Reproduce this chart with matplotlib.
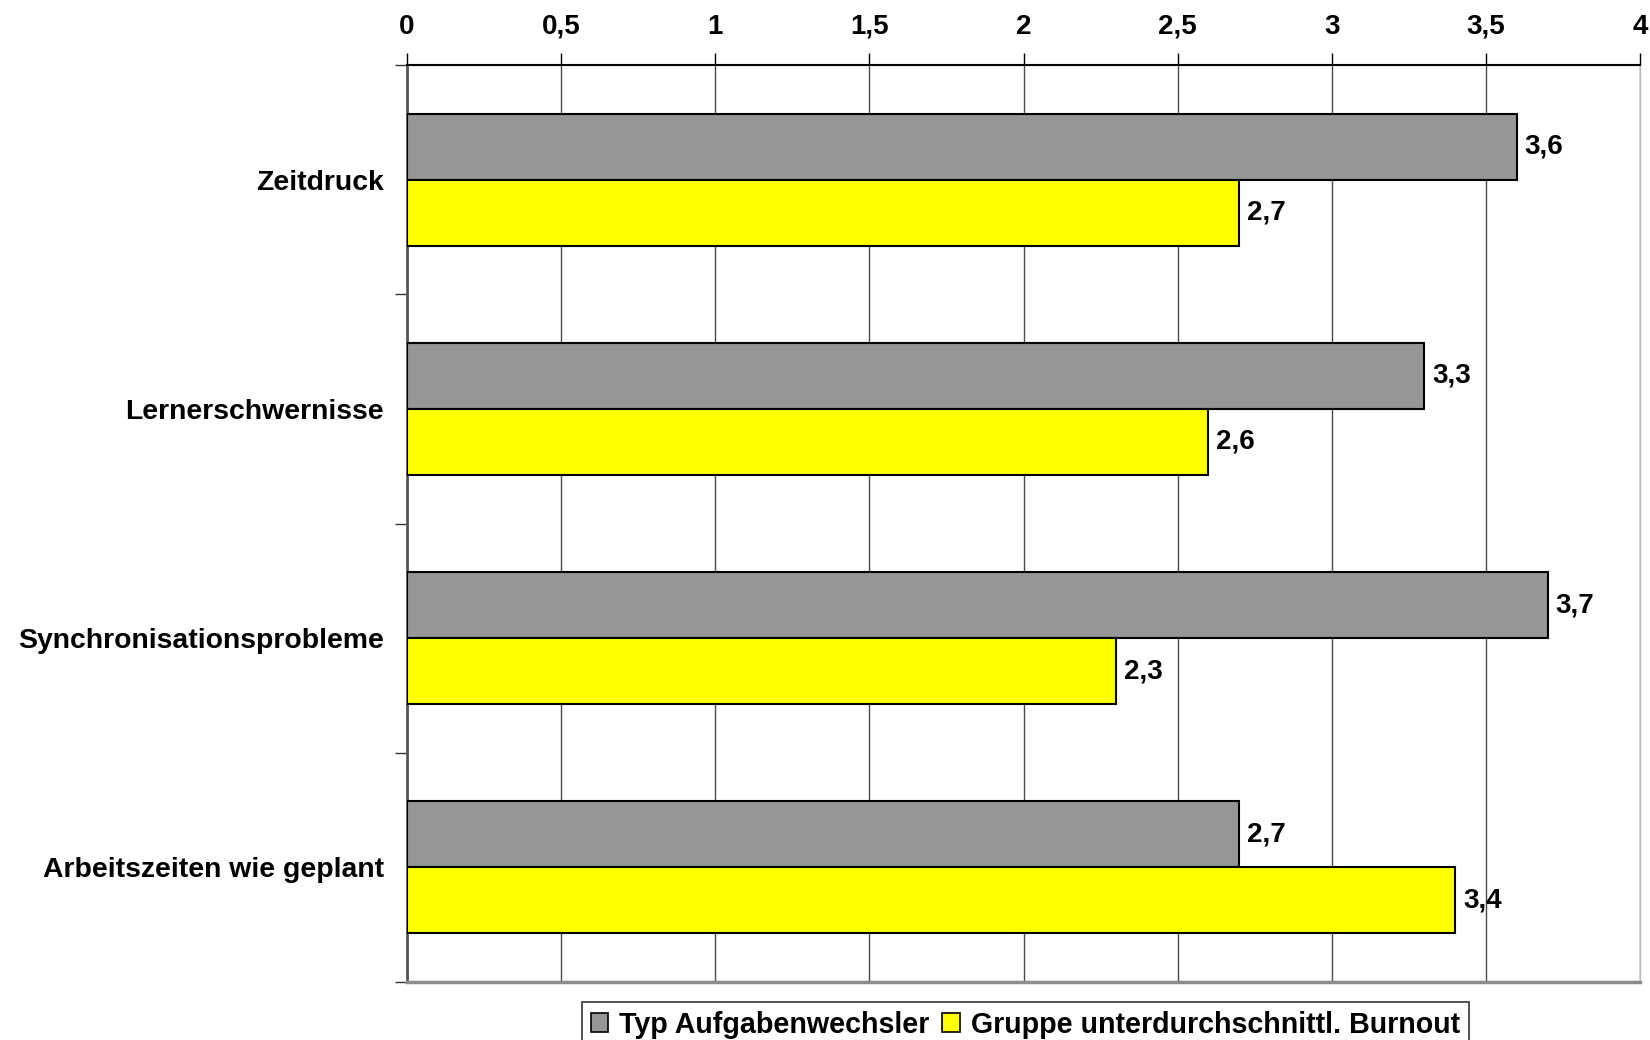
import matplotlib
matplotlib.use("Agg")
import matplotlib.pyplot as plt
import numpy as np
from matplotlib.patches import Patch

plt.rcParams['font.family'] = ['Liberation Sans', 'DejaVu Sans']
plt.rcParams['font.weight'] = 'bold'

categories = ["Zeitdruck", "Lernerschwernisse", "Synchronisationsprobleme", "Arbeitszeiten wie geplant"]
series_names = ["Typ Aufgabenwechsler", "Gruppe unterdurchschnittl. Burnout"]
aufgabenwechsler = [3.6, 3.3, 3.7, 2.7]
burnout = [2.7, 2.6, 2.3, 3.4]
x_ticks = [0, 0.5, 1, 1.5, 2, 2.5, 3, 3.5, 4]
x_tick_labels = ["0", "0,5", "1", "1,5", "2", "2,5", "3", "3,5", "4"]

colors = ["#969696", "#FFFF00"]

fig = plt.figure(figsize=(16.5, 10.4), dpi=100)
ax = fig.add_axes([407 / 1650, 1 - 982 / 1040, (1640 - 407) / 1650, (982 - 65) / 1040])

y = np.arange(len(categories))
h = 0.288
for offs, vals, col, name in [(-h / 2, aufgabenwechsler, colors[0], series_names[0]),
                              (h / 2, burnout, colors[1], series_names[1])]:
    bars = ax.barh(y + offs, vals, height=h, color=col, edgecolor="black",
                   linewidth=1.5, zorder=3, label=name)
    for b, v in zip(bars, vals):
        ax.annotate(f"{v:.1f}".replace(".", ","),
                    xy=(v, b.get_y() + b.get_height() / 2),
                    xytext=(8, 0), textcoords="offset pixels",
                    ha="left", va="center", fontsize=20, fontweight="bold")

ax.set_xlim(0, 4)
ax.set_ylim(len(categories) - 0.5, -0.5)

# x axis on top
ax.xaxis.tick_top()
ax.set_xticks(x_ticks)
ax.set_xticklabels(x_tick_labels, fontsize=20, fontweight="bold")
ax.tick_params(axis="x", which="major", direction="out", length=9, width=1,
               color="black", pad=9)
ax.xaxis.grid(True, color="#4a4a4a", linewidth=1, zorder=0)
ax.set_axisbelow(True)

# category labels at centres, tick marks at category boundaries
ax.set_yticks(y)
ax.set_yticklabels(categories, fontsize=20.4, fontweight="bold")
ax.tick_params(axis="y", which="major", length=0, pad=16.5)
ax.set_yticks(np.arange(-0.5, len(categories), 1.0), minor=True)
ax.tick_params(axis="y", which="minor", direction="out", length=9, width=1,
               color="#333333")

ax.spines["top"].set_color("black")
ax.spines["top"].set_linewidth(1.5)
ax.spines["left"].set_color("#555555")
ax.spines["left"].set_linewidth(2)
ax.spines["bottom"].set_color("#8c8c8c")
ax.spines["bottom"].set_linewidth(2.5)
ax.spines["right"].set_color("#bbbbbb")
ax.spines["right"].set_linewidth(1)

handles = [Patch(facecolor=colors[0], edgecolor="black", linewidth=1.2),
           Patch(facecolor=colors[1], edgecolor="black", linewidth=1.2)]
leg = fig.legend(handles, series_names, loc="upper left",
                 bbox_to_anchor=(582 / 1650, 1 - 1002 / 1040),
                 ncol=2, frameon=True, fancybox=False, edgecolor="black",
                 prop={"size": 20.6, "weight": "bold"},
                 handlelength=0.62, handleheight=0.62, handletextpad=0.38,
                 columnspacing=0.45, borderpad=0.3, borderaxespad=0)
leg.get_frame().set_linewidth(1.2)

fig.savefig("out.png", dpi=100)
